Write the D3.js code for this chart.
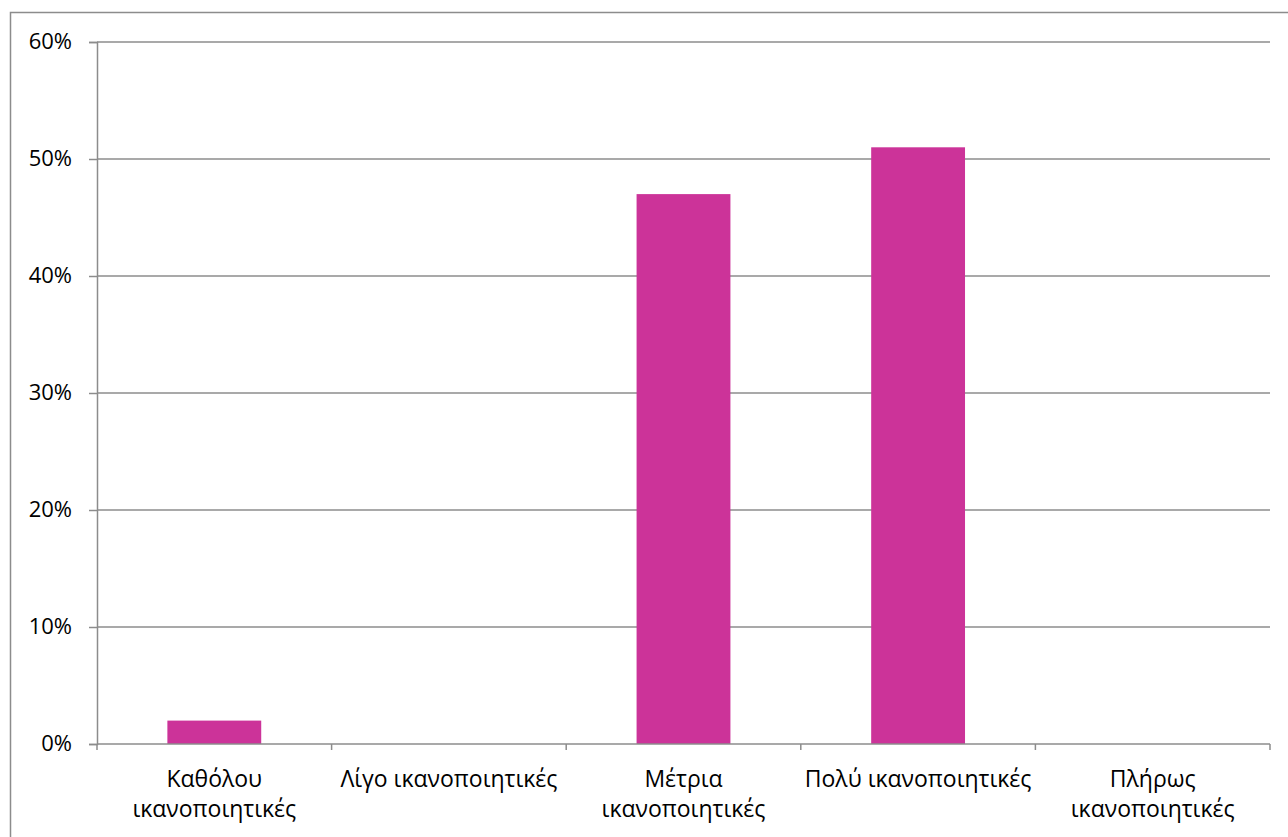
<!DOCTYPE html>
<html>
<head>
<meta charset="utf-8">
<script src="https://cdn.jsdelivr.net/npm/d3@7"></script>
<style>
  html, body { margin: 0; padding: 0; background: #fff; }
  svg { display: block; }
  text { font-family: "Open Sans", "Noto Sans", sans-serif; fill: #000; }
</style>
</head>
<body>
<svg id="chart" width="1288" height="837"></svg>
<script>
// Satisfaction levels and their share of responses
const categories = [
  ["Καθόλου", "ικανοποιητικές"],
  ["Λίγο ικανοποιητικές"],
  ["Μέτρια", "ικανοποιητικές"],
  ["Πολύ ικανοποιητικές"],
  ["Πλήρως", "ικανοποιητικές"]
];
const values = [0.02, 0, 0.47, 0.51, 0];
const yTicks = [0, 0.1, 0.2, 0.3, 0.4, 0.5, 0.6];

const svg = d3.select("#chart");
const margin = { left: 97, right: 18, top: 42, bottom: 93 };
const W = 1288, H = 837;

// outer chart frame
svg.append("rect")
  .attr("x", 10.5).attr("y", 12.5)
  .attr("width", 1300).attr("height", 900)
  .attr("fill", "none").attr("stroke", "#8c8c8c").attr("stroke-width", 1.5);

const keys = categories.map((c, i) => i);
const x = d3.scaleBand().domain(keys)
  .range([margin.left, W - margin.right]);
const y = d3.scaleLinear().domain([0, 0.6])
  .range([H - margin.bottom, margin.top]);

// horizontal gridlines
svg.append("g").selectAll("line").data(yTicks.slice(1)).join("line")
  .attr("x1", margin.left).attr("x2", W - margin.right)
  .attr("y1", d => y(d)).attr("y2", d => y(d))
  .attr("stroke", "#8c8c8c").attr("stroke-width", 1.5);

// y axis
const yAxis = svg.append("g")
  .attr("transform", `translate(${margin.left},0)`)
  .call(d3.axisLeft(y).tickValues(yTicks).tickSize(8).tickPadding(17)
    .tickFormat(d3.format(".0%")));
yAxis.select(".domain").attr("stroke", "#8c8c8c").attr("stroke-width", 1.5);
yAxis.selectAll(".tick line").attr("stroke", "#8c8c8c").attr("stroke-width", 1.5);
yAxis.selectAll(".tick text")
  .style("font-size", "22px").attr("dy", "0.3em");

// bars
const barW = x.bandwidth() * 0.4;
svg.append("g").selectAll("rect").data(values).join("rect")
  .attr("x", (d, i) => x(i) + (x.bandwidth() - barW) / 2)
  .attr("width", barW)
  .attr("y", d => y(d))
  .attr("height", d => y(0) - y(d))
  .attr("fill", "#cc3399");

// x axis with ticks at category boundaries
const xAxisG = svg.append("g");
xAxisG.append("line")
  .attr("x1", margin.left).attr("x2", W - margin.right)
  .attr("y1", y(0)).attr("y2", y(0))
  .attr("stroke", "#8c8c8c").attr("stroke-width", 1.5);
const bounds = keys.map(k => x(k)).concat([x(keys[keys.length - 1]) + x.step()]);
xAxisG.selectAll(".xt").data(bounds).join("line")
  .attr("x1", d => d).attr("x2", d => d)
  .attr("y1", y(0)).attr("y2", y(0) + 6)
  .attr("stroke", "#8c8c8c").attr("stroke-width", 1.5);

// category labels
const lab = svg.append("g").selectAll("text").data(categories).join("text")
  .attr("text-anchor", "middle")
  .style("font-size", "23px")
  .attr("x", (d, i) => x(i) + x.bandwidth() / 2)
  .attr("y", y(0) + 43);
lab.selectAll("tspan").data(d => d).join("tspan")
  .attr("x", function () { return this.parentNode.getAttribute("x"); })
  .attr("dy", (d, j) => j === 0 ? 0 : 30)
  .text(d => d);
</script>
</body>
</html>
